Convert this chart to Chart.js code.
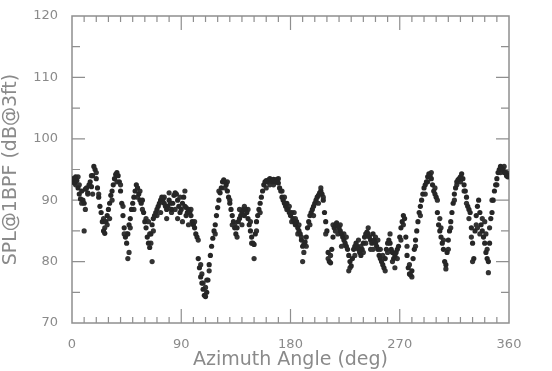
<!DOCTYPE html>
<html>
<head>
<meta charset="utf-8">
<script src="https://cdn.jsdelivr.net/npm/chart.js@4"></script>
<style>
  html, body { margin: 0; padding: 0; background: #fff; }
  #wrap { width: 552px; height: 371px; }
  #splChart { filter: blur(0.6px); }
</style>
</head>
<body>
<div id="wrap"><canvas id="splChart" width="552" height="371"></canvas></div>
<script>
// SPL vs azimuth, one reading per degree (0..360)
const splSweep = [
  93.0, 93.5, 92.8, 93.8, 93.2, 92.0, 91.0, 90.2, 91.5, 90.0,
  89.5, 91.8, 92.0, 91.2, 92.5, 93.0, 92.2, 94.0, 95.5, 95.0,
  93.5, 92.0, 90.5, 89.0, 88.0, 86.5, 85.0, 84.6, 86.5, 87.5,
  88.5, 89.5, 90.8, 91.5, 92.5, 93.5, 94.2, 94.5, 94.0, 93.0,
  91.5, 89.5, 87.5, 85.5, 84.0, 83.0, 84.5, 86.0, 87.0, 88.5,
  89.5, 90.5, 91.5, 92.5, 92.0, 91.0, 90.0, 89.5, 90.0, 88.0,
  86.5, 85.5, 84.0, 83.0, 82.3, 84.5, 86.0, 87.0, 87.5, 88.0,
  88.5, 89.0, 89.5, 90.0, 90.5, 90.2, 89.5, 89.0, 88.5, 89.0,
  90.0, 89.5, 88.5, 89.5, 90.8, 91.2, 91.0, 90.0, 89.0, 88.0,
  88.5, 89.5, 90.5, 89.0, 87.5, 88.0, 88.5, 88.0, 87.5, 86.5,
  86.0, 85.5, 84.5, 84.0, 80.5, 79.0, 77.5, 76.5, 75.5, 74.5,
  74.3, 75.0, 77.0, 79.5, 81.0, 82.5, 83.8, 85.0, 86.0, 87.5,
  88.8, 90.0, 91.2, 92.0, 93.0, 93.3, 93.0, 92.5, 91.5, 90.5,
  89.5, 88.5, 87.5, 86.5, 85.5, 84.5, 85.5, 86.5, 87.0, 87.5,
  88.0, 88.5, 87.5, 88.5, 88.0, 87.0, 86.0, 85.0, 84.0, 83.0,
  82.8, 84.5, 86.5, 87.5, 88.5, 89.5, 90.5, 91.5, 92.5, 93.0,
  93.2, 93.0, 93.3, 93.5, 93.2, 93.0, 93.4, 93.3, 93.0, 93.4,
  92.8, 92.0, 91.5, 90.5, 90.0, 89.5, 89.0, 89.5, 88.5, 88.0,
  87.5, 88.0, 87.0, 86.5, 86.0, 86.5, 85.5, 85.0, 84.5, 83.5,
  82.5, 82.8, 83.2, 84.0, 85.5, 86.5, 87.5, 88.0, 88.5, 89.0,
  89.5, 90.0, 90.5, 90.8, 91.2, 91.5, 91.0, 90.0, 88.0, 86.5,
  85.0, 81.5, 80.0, 79.8, 82.0, 84.0, 85.5, 86.0, 86.3, 85.8,
  85.5, 85.0, 84.5, 84.0, 83.5, 83.0, 82.5, 82.0, 81.0, 80.0,
  79.3, 80.5, 82.0, 82.5, 83.0, 82.5, 82.0, 81.5, 81.0, 82.0,
  83.0, 84.0, 84.5, 84.8, 84.5, 84.0, 83.5, 83.0, 84.5, 83.5,
  83.0, 82.5, 82.0, 81.0, 80.5, 80.0, 79.5, 79.0, 80.5, 82.0,
  83.0, 83.5, 83.0, 82.0, 81.5, 80.5, 81.0, 81.5, 82.0, 82.5,
  84.0, 85.5, 86.5, 87.5, 87.0, 84.0, 81.0, 79.0, 78.0, 77.8,
  78.5, 80.5, 82.0, 83.5, 85.0, 86.5, 88.0, 89.0, 90.0, 91.0,
  92.0, 92.5, 93.0, 93.8, 94.3, 94.0, 93.5, 92.5, 91.5, 91.0,
  90.5, 88.0, 86.0, 85.0, 84.0, 83.0, 82.0, 80.0, 79.5, 81.5,
  83.5, 85.0, 86.5, 88.0, 89.5, 91.0, 92.0, 93.0, 93.3, 93.5,
  93.8, 94.3, 93.5, 92.5, 91.5, 90.5, 89.0, 88.5, 88.0, 85.5,
  83.0, 80.5, 85.0, 87.5, 89.0, 90.0, 88.0, 86.0, 85.0, 84.0,
  83.0, 81.5, 80.5, 80.0, 83.0, 87.0, 88.0, 90.0, 91.5, 92.5,
  93.5, 94.5, 95.0, 95.5, 95.2, 95.0, 94.5, 94.5, 94.0, 93.8,
  94.0
];

// extra scattered readings (angle, SPL)
const scatterAngles = [
  3, 5, 6, 8, 10, 11, 13, 16, 17, 20, 22, 26, 27, 29, 31, 33, 37, 40, 42, 43,
  45, 46, 47, 48, 51, 54, 56, 58, 61, 63, 64, 65, 66, 67, 70, 73, 76, 78, 80, 82,
  85, 87, 89, 91, 93, 94, 96, 98, 101, 104, 106, 107, 108, 110, 111, 113, 118, 121, 126, 128,
  130, 132, 134, 136, 138, 140, 142, 145, 147, 148, 150, 152, 155, 160, 163, 166, 170, 173, 175, 177,
  179, 181, 183, 184, 186, 187, 189, 190, 191, 193, 196, 199, 203, 205, 207, 209, 211, 213, 215, 217,
  219, 221, 222, 224, 226, 228, 229, 233, 236, 238, 240, 242, 244, 246, 248, 250, 252, 254, 256, 258,
  260, 262, 264, 266, 268, 271, 273, 276, 278, 280, 283, 287, 291, 293, 296, 299, 301, 303, 304, 306,
  308, 310, 312, 315, 317, 320, 323, 325, 327, 329, 330, 333, 334, 336, 338, 340, 341, 342, 343, 344,
  346, 350, 353, 356, 358
];
const scatterSpl = [
  92.5, 93.8, 92.5, 89.5, 85.0, 88.5, 91.0, 94.0, 91.0, 94.5, 91.0, 87.0, 85.5, 86.0, 87.0, 90.0, 93.0, 92.5, 89.0, 84.5,
  84.5, 80.5, 81.5, 85.5, 88.5, 90.5, 91.5, 88.5, 87.0, 86.5, 84.5, 83.0, 80.0, 85.0, 87.5, 88.0, 90.5, 87.0, 91.2, 88.0,
  88.5, 87.0, 90.5, 86.5, 91.5, 88.8, 86.0, 88.5, 86.5, 83.5, 79.5, 78.0, 76.5, 75.8, 77.0, 78.5, 84.5, 91.5, 92.0, 93.0,
  90.0, 86.0, 86.0, 84.0, 88.5, 86.0, 89.0, 88.5, 86.5, 83.0, 80.5, 85.0, 88.0, 92.0, 92.5, 92.5, 93.5, 91.5, 90.5, 88.5,
  89.0, 86.5, 88.0, 87.0, 84.5, 86.0, 84.0, 80.0, 81.5, 82.5, 86.0, 87.5, 89.5, 92.0, 90.5, 84.5, 80.5, 81.0, 86.0, 85.0,
  84.5, 86.0, 82.5, 84.5, 84.0, 78.5, 79.0, 81.0, 83.5, 82.5, 81.5, 83.0, 85.5, 82.0, 82.0, 84.0, 83.5, 82.0, 81.0, 78.5,
  81.5, 84.5, 80.0, 79.0, 80.5, 83.5, 86.0, 82.5, 79.5, 77.5, 82.5, 87.5, 91.0, 93.0, 94.5, 92.0, 90.0, 87.0, 85.5, 83.5,
  78.8, 82.0, 85.5, 90.0, 92.5, 93.0, 91.5, 89.5, 87.0, 84.0, 80.0, 86.0, 85.5, 84.5, 87.0, 86.5, 84.5, 82.0, 78.2, 85.5,
  90.0, 92.5, 94.5, 95.5, 94.5
];

const xTicks = [0, 90, 180, 270, 360];
const yTicks = [70, 80, 90, 100, 110, 120];

const sweepPoints = splSweep.map((v, i) => ({ x: i, y: v }));
const extraPoints = scatterAngles.map((a, i) => ({ x: a, y: scatterSpl[i] }));

const labelGrey = '#8a8a8a';
const frameGrey = '#8f8f8f';

// frame with inward ticks, drawn from the scales
const frameTicks = {
  id: 'frameTicks',
  beforeDatasetsDraw(chart) {
    const { ctx, chartArea: a, scales: { x, y } } = chart;
    ctx.save();
    ctx.strokeStyle = frameGrey;
    ctx.lineWidth = 1.5;
    ctx.strokeRect(a.left, a.top, a.right - a.left, a.bottom - a.top);
    ctx.lineWidth = 1.2;
    ctx.beginPath();
    for (let d = 10; d < 360; d += 10) {
      const px = x.getPixelForValue(d);
      const len = d % 90 === 0 ? 14 : 6;
      ctx.moveTo(px, a.bottom); ctx.lineTo(px, a.bottom - len);
      ctx.moveTo(px, a.top); ctx.lineTo(px, a.top + len);
    }
    for (let v = 75; v < 120; v += 5) {
      const py = y.getPixelForValue(v);
      const len = v % 10 === 0 ? 13 : 8;
      ctx.moveTo(a.left, py); ctx.lineTo(a.left + len, py);
      ctx.moveTo(a.right, py); ctx.lineTo(a.right - len, py);
    }
    ctx.stroke();
    ctx.restore();
  }
};

new Chart(document.getElementById('splChart'), {
  type: 'scatter',
  data: {
    datasets: [{
      data: sweepPoints,
      backgroundColor: '#262626',
      borderWidth: 0,
      pointRadius: 2.6
    }, {
      data: extraPoints,
      backgroundColor: '#333333',
      borderWidth: 0,
      pointRadius: 2.6
    }]
  },
  options: {
    responsive: false,
    animation: false,
    layout: { padding: { left: 0, top: 16, right: 43, bottom: 0 } },
    plugins: { legend: { display: false }, tooltip: { enabled: false } },
    scales: {
      x: {
        type: 'linear',
        min: 0,
        max: 360,
        afterBuildTicks: s => { s.ticks = xTicks.map(v => ({ value: v })); },
        afterFit: s => { s.height = 48; },
        grid: { display: false },
        border: { display: false },
        ticks: { color: labelGrey, font: { family: 'DejaVu Sans', size: 13 }, padding: 6, maxRotation: 0 },
        title: { display: true, text: 'Azimuth Angle (deg)', color: labelGrey, font: { family: 'DejaVu Sans', size: 19 }, padding: { top: 0, bottom: 0 } }
      },
      y: {
        min: 70,
        max: 120,
        afterBuildTicks: s => { s.ticks = yTicks.map(v => ({ value: v })); },
        afterFit: s => { s.width = 72; },
        grid: { display: false },
        border: { display: false },
        ticks: { color: labelGrey, font: { family: 'DejaVu Sans', size: 13 }, padding: 6 },
        title: { display: true, text: 'SPL@1BPF (dB@3ft)', color: labelGrey, font: { family: 'DejaVu Sans', size: 19 }, padding: { top: 0, bottom: 2 } }
      }
    }
  },
  plugins: [frameTicks]
});
</script>
</body>
</html>
